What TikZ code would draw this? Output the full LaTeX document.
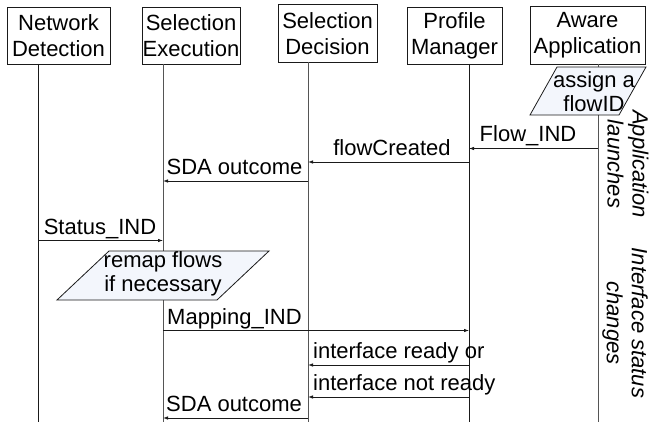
\documentclass[tikz,border=0pt]{standalone}
\usepackage{fontspec}
\setmainfont{Liberation Sans}
\usetikzlibrary{arrows.meta}
\definecolor{lnA}{HTML}{1A1A1A}
\definecolor{lnB}{HTML}{555555}
\definecolor{pfill}{HTML}{F3F6FC}
\begin{document}
\begin{tikzpicture}[x=1pt,y=-1pt,
  font=\fontsize{22}{26}\selectfont,
  hdr/.style={draw=lnA, line width=0.9pt, align=center, inner sep=0pt, text=black},
  lifeA/.style={draw=lnA, line width=1pt},
  lifeB/.style={draw=lnB, line width=1pt},
  msg/.style={draw=lnA, line width=0.8pt, -{Latex[length=5pt,width=3.5pt]}},
  lbl/.style={inner sep=0pt, text=black},
  para/.style={draw=lnA, line width=0.8pt, fill=pfill},
  ptext/.style={font=\fontsize{22}{24}\selectfont, align=center, inner sep=0pt},
  side/.style={font=\fontsize{22}{25}\selectfont\itshape, rotate=-90, align=center, inner sep=0pt}
]
\useasboundingbox (0,0) rectangle (650,422);

% headers
\node[hdr, minimum width=103pt, minimum height=57pt] (nd) at (58.5,35.5) {Network\\Detection};
\node[hdr, minimum width=98pt, minimum height=57pt] (se) at (191,35.5) {Selection\\Execution};
\node[hdr, minimum width=99pt, minimum height=58pt] (sd) at (327.5,33.5) {Selection\\Decision};
\node[hdr, minimum width=95pt, minimum height=57pt] (pm) at (454.5,35.5) {Profile\\Manager};
\node[hdr, minimum width=115pt, minimum height=58pt] (aa) at (587.5,35) {Aware\\Application};

% lifeline coordinates
\coordinate (nd-t) at (38,64);   \coordinate (nd-b) at (38,422);
\coordinate (se-t) at (163,64);  \coordinate (se-b) at (163,422);
\coordinate (sd-t) at (308,62.5);\coordinate (sd-b) at (308,422);
\coordinate (pm-t) at (469,64);  \coordinate (pm-b) at (469,422);
\coordinate (aa-t) at (598,64);  \coordinate (aa-b) at (598,422);

\draw[lifeA] (nd-t) -- (nd-b);
\draw[lifeB] (se-t) -- (se-b);
\draw[lifeB] (sd-t) -- (sd-b);
\draw[lifeA] (pm-t) -- (pm-b);
\draw[lifeB] (aa-t) -- (aa-b);

% process boxes (parallelograms)
\draw[para] (557,67) -- (646,67) -- (619,115) -- (530,115) -- cycle;
\node[ptext] (assign) at (594,92) {assign a\\flowID};
\draw[para] (109,251) -- (269,251) -- (217,300) -- (57,300) -- cycle;
\node[ptext] (remap) at (163,274) {remap flows\\if necessary};

% message end points
\coordinate (m1s) at (598,148.5); \coordinate (m1e) at (469,148.5);
\coordinate (m2s) at (469,162);   \coordinate (m2e) at (308,162);
\coordinate (m3s) at (308,181);   \coordinate (m3e) at (163,181);
\coordinate (m4s) at (38,240.5);  \coordinate (m4e) at (163,240.5);
\coordinate (m5s) at (163,330.5); \coordinate (m5e) at (469,330.5);
\coordinate (m6s) at (469,365);   \coordinate (m6e) at (308,365);
\coordinate (m7s) at (469,397);   \coordinate (m7e) at (308,397);
\coordinate (m8s) at (308,418);   \coordinate (m8e) at (163,418);

\draw[msg] (m1s) -- (m1e);
\draw[msg] (m2s) -- (m2e);
\draw[msg] (m3s) -- (m3e);
\draw[msg] (m4s) -- (m4e);
\draw[msg] (m5s) -- (m5e);
\draw[msg] (m6s) -- (m6e);
\draw[msg] (m7s) -- (m7e);
\draw[msg] (m8s) -- (m8e);

% labels
\node[lbl, anchor=base] (l1) at (528,141.5) {Flow\_IND};
\node[lbl, anchor=base] (l2) at (392,155.5) {flowCreated};
\node[lbl, anchor=base] (l3) at (234.5,174.5) {SDA outcome};
\node[lbl, anchor=base] (l4) at (100,234) {Status\_IND};
\node[lbl, anchor=base west] (l5) at (167,324) {Mapping\_IND};
\node[lbl, anchor=base west] (l6) at (313,358.5) {interface ready or};
\node[lbl, anchor=base west] (l7) at (313,390.5) {interface not ready};
\node[lbl, anchor=base west] (l8) at (166,411.5) {SDA outcome};

% side notes
\node[side] (s1) at (628,164) {Application\\launches};
\node[side] (s2) at (625,323) {Interface status\\changes};
\end{tikzpicture}
\end{document}
